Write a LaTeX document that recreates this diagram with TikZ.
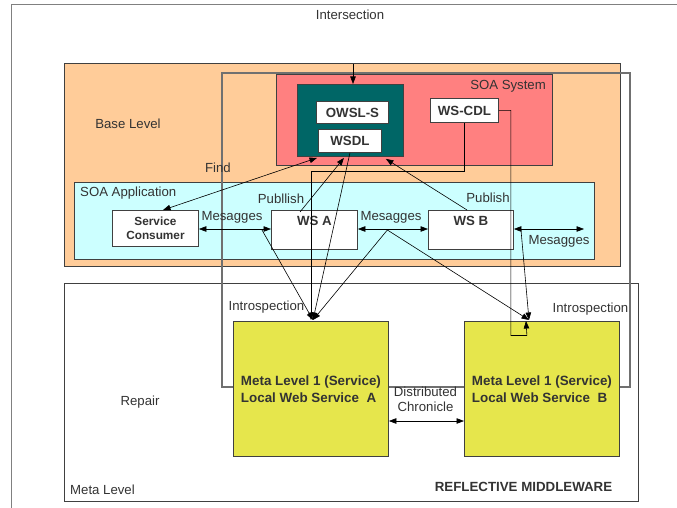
\documentclass[tikz,border=0pt]{standalone}
\usepackage{fontspec}
\setmainfont{Liberation Sans}
\usetikzlibrary{arrows.meta,calc}
\definecolor{orangefill}{HTML}{FFCC99}
\definecolor{redfill}{HTML}{FF8080}
\definecolor{tealfill}{HTML}{006666}
\definecolor{cyanfill}{HTML}{CCFFFF}
\definecolor{yellowfill}{HTML}{E6E64C}
\definecolor{txt}{HTML}{333333}
\definecolor{edge}{HTML}{404040}
\definecolor{framec}{HTML}{707070}
\definecolor{outerc}{HTML}{808080}
\begin{document}
\begin{tikzpicture}[x=1pt,y=-1pt,
  box/.style={draw=edge,line width=0.9pt,rectangle,anchor=north west,inner sep=0pt,text=txt},
  lbl/.style={text=txt,font=\fontsize{13.2}{15}\selectfont,inner sep=0pt},
  blbl/.style={text=txt,font=\fontsize{13.3}{17}\selectfont\bfseries,inner sep=0pt},
  conn/.style={draw=black,line width=0.6pt},
  tip/.style={-{Triangle[length=7.5pt,width=5.5pt]}},
  dtip/.style={{Triangle[length=7.5pt,width=5.5pt]}-{Triangle[length=7.5pt,width=5.5pt]}},
]
\useasboundingbox (0,0) rectangle (677,508);
% outer frame lines
\draw[outerc,line width=1pt] (11,508) -- (11,5) -- (677,5);
\node[lbl] (intersection) at (350,15) {Intersection};

% base level
\node[box,fill=orangefill,minimum width=556pt,minimum height=203pt] (base) at (64,63) {};
\node[lbl] (baselbl) at (128,124) {Base Level};
% SOA application
\node[box,fill=cyanfill,minimum width=520pt,minimum height=77pt] (app) at (74,182) {};
\node[lbl,anchor=west] (applbl) at (80,193) {SOA Application};
% meta level
\node[box,minimum width=574pt,minimum height=218pt] (meta) at (64,283) {};
\node[lbl,anchor=west] (metalbl) at (70,490) {Meta Level};
\node[lbl] (repair) at (140,402) {Repair};
\node[blbl] (refl) at (523.5,487) {REFLECTIVE MIDDLEWARE};

% gray frame
\draw[framec,line width=1.1pt] (222,73) rectangle (630,387);

% SOA system
\node[box,fill=redfill,minimum width=276pt,minimum height=91pt] (sys) at (276,74) {};
\node[lbl,anchor=east] (syslbl) at (546,86) {SOA System};
\node[box,fill=tealfill,minimum width=106pt,minimum height=72pt] (teal) at (297,84) {};
\node[box,fill=white,minimum width=72pt,minimum height=22pt,font=\fontsize{13.3}{15}\selectfont\bfseries] (owsl) at (316,101) {OWSL-S};
\node[box,fill=white,minimum width=63pt,minimum height=23pt,font=\fontsize{13.3}{15}\selectfont\bfseries] (wsdl) at (318,129) {WSDL};
\node[box,fill=white,minimum width=68pt,minimum height=24pt,font=\fontsize{13.3}{15}\selectfont\bfseries] (wscdl) at (430,98) {WS-CDL};

% application services
\node[box,fill=white,minimum width=86pt,minimum height=36pt,align=center,font=\fontsize{11.8}{14}\selectfont\bfseries] (sc) at (112,210) {Service\\Consumer};
\node[box,fill=white,minimum width=86pt,minimum height=39pt] (wsa) at (271,210) {};
\node[blbl] (wsalbl) at ($(wsa.north)+(0,11)$) {WS A};
\node[box,fill=white,minimum width=85pt,minimum height=39pt] (wsb) at (428,210) {};
\node[blbl] (wsblbl) at ($(wsb.north)+(0,11)$) {WS B};

% meta level services
\node[box,fill=yellowfill,minimum width=155pt,minimum height=135pt,align=left,font=\fontsize{13.4}{17}\selectfont\bfseries] (ylA) at (233,321) {Meta Level 1 (Service)\\Local Web Service\ \ A};
\node[box,fill=yellowfill,minimum width=155pt,minimum height=135pt,align=left,font=\fontsize{13.4}{17}\selectfont\bfseries] (ylB) at (464,321) {Meta Level 1 (Service)\\Local Web Service\ \ B};

% labels
\node[lbl] (find) at (218,168) {Find};
\node[lbl] (pub1) at (281,199) {Publlish};
\node[lbl] (pub2) at (488,198) {Publish};
\node[lbl] (msg1) at (232,217) {Mesagges};
\node[lbl] (msg2) at (391,217) {Mesagges};
\node[lbl] (msg3) at (559,241) {Mesagges};
\node[lbl] (intro1) at (266.5,307) {Introspection};
\node[lbl] (intro2) at (590.5,309) {Introspection};
\node[lbl,align=center,font=\fontsize{13.2}{15}\selectfont] (dist) at (425.5,399.5) {Distributed\\Chronicle};

% coordinates
\coordinate (my) at (0,229);
\coordinate (dc) at (0,421);
\coordinate (topin) at (353,64);
\coordinate (inA) at ($(ylA.north west)+(80,-1)$);
\coordinate (inB) at ($(ylB.north west)+(65,-1)$);
\coordinate (inB2) at ($(ylB.north west)+(62,0)$);
\coordinate (msgR) at (584,229);
\coordinate (l1) at ($(wsa.west |- my)+(-9,1)$);
\coordinate (mid) at ($(wsa.east |- my)!0.42!(wsb.west |- my)+(0,1)$);
\coordinate (r1) at ($(wsb.east |- my)+(7,0)$);

% connectors
\draw[conn,tip] (topin) -- (teal.north -| topin);
\draw[conn,dtip] ($(sc.north west)+(51,0)$) -- ($(teal.south west)+(20,1)$);
\draw[conn,tip] ($(wsa.north west)+(29,2)$) -- ($(wsdl.south)+(-6,5)$);
\draw[conn,tip] ($(wsb.north west)+(39,0)$) -- ($(teal.south east)+(-18,2)$);
\draw[conn,tip] (wsdl.south) -- (inA);
\draw[conn,tip] (wscdl.south) -- ++(0,48) -| ($(inA)+(-2,0)$);
\draw[conn,tip] (wscdl.east) -- ++(12,0) -- ++(0,225) -- ++(16,0) -- (inB2);
\draw[conn,dtip] (sc.east |- my) -- (wsa.west |- my);
\draw[conn,dtip] (wsa.east |- my) -- (wsb.west |- my);
\draw[conn,dtip] (wsb.east |- my) -- (msgR);
\draw[conn,tip] (l1) -- (inA);
\draw[conn,tip] (mid) -- (inA);
\draw[conn,tip] (mid) -- (inB);
\draw[conn,tip] (r1) -- (inB);
\draw[conn,dtip] (ylA.east |- dc) -- (ylB.west |- dc);
\end{tikzpicture}
\end{document}
